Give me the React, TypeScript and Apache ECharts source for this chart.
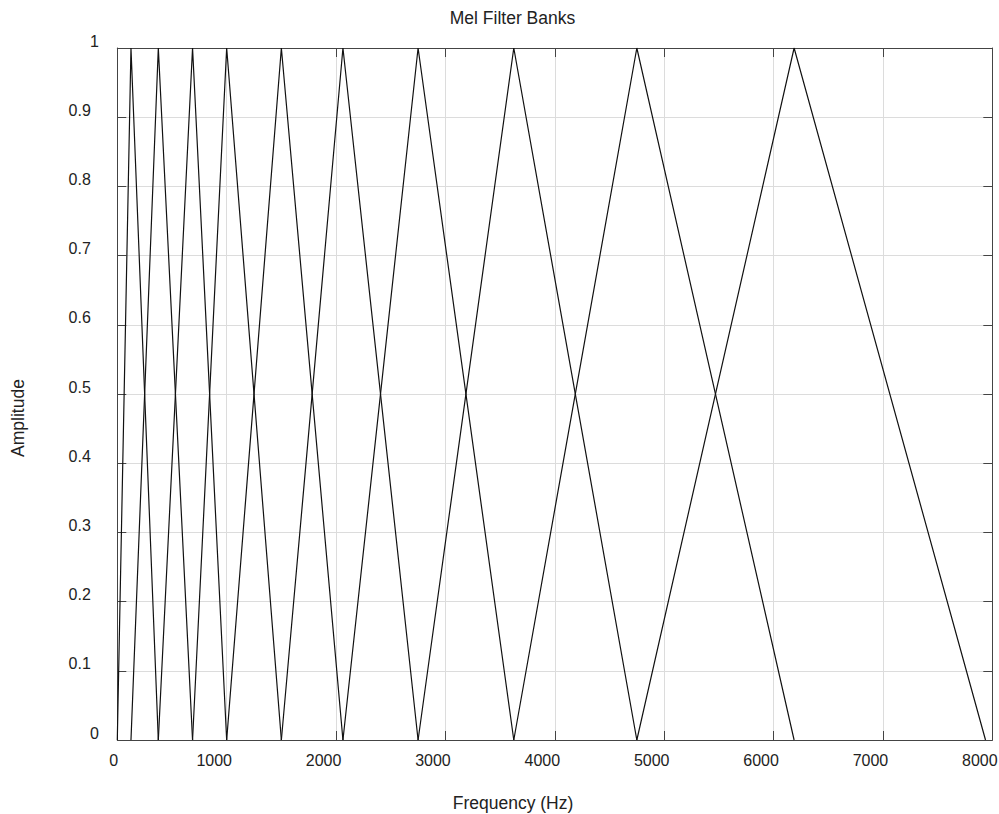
import React, { useEffect, useRef } from "react";
import * as echarts from "echarts";

// Triangle filter edges in Hz: filter k rises from edge k-1, peaks at edge k, falls to edge k+1
const BAND_EDGES_HZ = [0, 125, 375, 688, 1000, 1500, 2063, 2750, 3625, 4750, 6188, 7938];
const PEAK_AMPLITUDE = 1;
const FREQ_MIN = 0;
const FREQ_MAX = 8000;
const FREQ_STEP = 1000;
const AMP_MIN = 0;
const AMP_MAX = 1;
const AMP_STEP = 0.1;

const TITLE = "Mel Filter Banks";
const X_NAME = "Frequency (Hz)";
const Y_NAME = "Amplitude";

const FONT = "'Liberation Sans', Arial, sans-serif";
const TEXT_COLOR = "#222";
const FRAME_COLOR = "#444";
const GRID_COLOR = "#dcdcdc";

export default function App() {
  const ref = useRef<HTMLDivElement>(null);

  useEffect(() => {
    if (!ref.current) return;
    const chart = echarts.init(ref.current, null, { renderer: "svg" });

    const series = [];
    for (let k = 1; k < BAND_EDGES_HZ.length - 1; k++) {
      series.push({
        type: "line",
        name: `filter ${k}`,
        xAxisIndex: 0,
        yAxisIndex: 0,
        symbol: "none",
        silent: true,
        lineStyle: { color: "#111", width: 1.2 },
        data: [
          [BAND_EDGES_HZ[k - 1], 0],
          [BAND_EDGES_HZ[k], PEAK_AMPLITUDE],
          [BAND_EDGES_HZ[k + 1], 0],
        ],
      });
    }

    const tickText = { fontFamily: FONT, fontSize: 16, color: TEXT_COLOR, lineHeight: 16 };

    chart.setOption({
      animation: false,
      backgroundColor: "#fff",
      grid: {
        left: 117.3,
        right: 6.7,
        top: 48,
        bottom: 74,
        containLabel: false,
        outerBoundsMode: "none",
      },
      xAxis: [
        {
          type: "value",
          min: FREQ_MIN,
          max: FREQ_MAX,
          interval: FREQ_STEP,
          position: "bottom",
          axisLine: { show: true, onZero: false, lineStyle: { color: FRAME_COLOR, width: 1 } },
          axisTick: { show: true, inside: true, length: 9, lineStyle: { color: FRAME_COLOR } },
          splitLine: { show: true, lineStyle: { color: GRID_COLOR, width: 1 } },
          axisLabel: {
            margin: 12,
            align: "center",
            verticalAlign: "top",
            formatter: (v: number) => (v === 0 ? `{z|${v}}` : `{n|${v}}`),
            rich: {
              n: { ...tickText, padding: [0, 25, 0, 0] },
              z: { ...tickText, padding: [0, 7, 0, 0] },
            },
          },
        },
        {
          type: "value",
          min: FREQ_MIN,
          max: FREQ_MAX,
          interval: FREQ_STEP,
          position: "top",
          axisLine: { show: true, onZero: false, lineStyle: { color: FRAME_COLOR, width: 1 } },
          axisTick: { show: true, inside: true, length: 9, lineStyle: { color: FRAME_COLOR } },
          splitLine: { show: false },
          axisLabel: { show: false },
        },
      ],
      yAxis: [
        {
          type: "value",
          min: AMP_MIN,
          max: AMP_MAX,
          interval: AMP_STEP,
          position: "left",
          axisLine: { show: true, onZero: false, lineStyle: { color: FRAME_COLOR, width: 1 } },
          axisTick: { show: true, inside: true, length: 9, lineStyle: { color: FRAME_COLOR } },
          splitLine: { show: true, lineStyle: { color: GRID_COLOR, width: 1 } },
          axisLabel: {
            margin: 18.5,
            align: "right",
            verticalAlign: "bottom",
            formatter: (v: number) => {
              const r = Math.round(v * 10) / 10;
              if (r === 0 || r === 1) return `{w|${r}}`;
              return `{d|${r.toFixed(1)}}`;
            },
            rich: {
              w: { ...tickText, lineHeight: 14 },
              d: { ...tickText, lineHeight: 14, padding: [0, 8, 0, 0] },
            },
          },
        },
        {
          type: "value",
          min: AMP_MIN,
          max: AMP_MAX,
          interval: AMP_STEP,
          position: "right",
          axisLine: { show: true, onZero: false, lineStyle: { color: FRAME_COLOR, width: 1 } },
          axisTick: { show: true, inside: true, length: 9, lineStyle: { color: FRAME_COLOR } },
          splitLine: { show: false },
          axisLabel: { show: false },
        },
      ],
      graphic: [
        {
          type: "text",
          x: 512.5,
          y: 18,
          style: {
            text: TITLE,
            fontFamily: FONT,
            fontSize: 17.5,
            fill: TEXT_COLOR,
            align: "center",
            verticalAlign: "middle",
          },
        },
        {
          type: "text",
          x: 513,
          y: 803,
          style: {
            text: X_NAME,
            fontFamily: FONT,
            fontSize: 17.5,
            fill: TEXT_COLOR,
            align: "center",
            verticalAlign: "middle",
          },
        },
        {
          type: "text",
          x: 18,
          y: 418,
          rotation: Math.PI / 2,
          style: {
            text: Y_NAME,
            fontFamily: FONT,
            fontSize: 17.5,
            fill: TEXT_COLOR,
            align: "center",
            verticalAlign: "middle",
          },
        },
      ],
      series,
    });

    return () => chart.dispose();
  }, []);

  return (
    <div
      ref={ref}
      style={{ position: "fixed", left: 0, top: 0, width: 999, height: 814, background: "#fff" }}
    />
  );
}
